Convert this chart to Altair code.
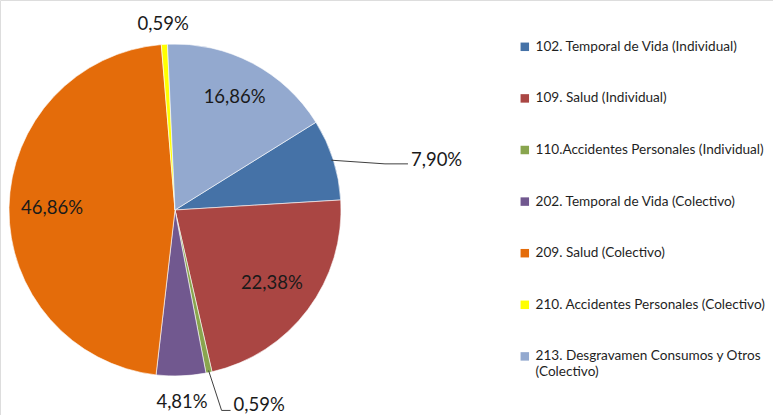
import math
import altair as alt
import pandas as pd

categories = [
    "102. Temporal de Vida (Individual)",
    "109. Salud (Individual)",
    "110.Accidentes Personales (Individual)",
    "202. Temporal de Vida (Colectivo)",
    "209. Salud (Colectivo)",
    "210. Accidentes Personales (Colectivo)",
    "213. Desgravamen Consumos y Otros (Colectivo)",
]
values = [7.90, 22.38, 0.59, 4.81, 46.86, 0.59, 16.86]
labels = ["7,90%", "22,38%", "0,59%", "4,81%", "46,86%", "0,59%", "16,86%"]
colors = ["#4572A7", "#AA4643", "#89A54E", "#71588F", "#E46C0A", "#FFFF00", "#93A9CF"]

# layout (style) constants
CX, CY, R = 175, 210, 166
START_DEG = 58.1
label_radius = [None, 121, None, 192, 123, 186, 128]
leader = {0: (237.5, 78.8, 23, 4), 2: (208, 164.5, 9, 5)}  # r, angle, elbow offset, text lift

total = sum(values)
rows, text_rows, line_rows = [], [], []
cum = START_DEG
for i, (c, v, lab) in enumerate(zip(categories, values, labels)):
    span = 360 * v / total
    mid = math.radians(cum + span / 2)
    cum += span
    rows.append({"cat": c, "value": v, "idx": i})
    if i in leader:
        lr, la, elb, lift = leader[i]
        ax = CX + lr * math.sin(math.radians(la))
        ay = CY - lr * math.cos(math.radians(la))
        sx = CX + (R - 2) * math.sin(mid)
        sy = CY - (R - 2) * math.cos(mid)
        pts = [(sx, sy), (ax - elb, ay), (ax, ay)]
        for k, (px, py) in enumerate(pts):
            line_rows.append({"g": i, "k": k, "px": px, "py": py})
        text_rows.append({"t": lab, "px": ax + 3, "py": ay - lift, "al": "left"})
    else:
        lr = label_radius[i]
        text_rows.append({"t": lab, "px": CX + lr * math.sin(mid),
                          "py": CY - lr * math.cos(mid), "al": "center"})

df = pd.DataFrame(rows)
tdf = pd.DataFrame(text_rows)
ldf = pd.DataFrame(line_rows)

FONT = "Lato"
last = categories[-1]
label_expr = (f"datum.label == '{last}' ? ['213. Desgravamen Consumos y Otros', '(Colectivo)'] : datum.label")

start = math.radians(START_DEG)
arcs = alt.Chart(df).mark_arc(radius=R, stroke="white", strokeWidth=0.6).encode(
    theta=alt.Theta("value:Q", stack=True, scale=alt.Scale(range=[start, start + 2 * math.pi])),
    order=alt.Order("idx:Q"),
    color=alt.Color("cat:N", scale=alt.Scale(domain=categories, range=colors),
                    sort=categories,
                    legend=alt.Legend(title=None, orient="none", legendX=518, legendY=40,
                                      symbolType="square", symbolSize=72, symbolStrokeWidth=0,
                                      labelFont=FONT, labelFontSize=13.6, labelColor="#1f1f1f",
                                      labelLimit=300, rowPadding=36.6, labelOffset=4,
                                      labelExpr=label_expr, padding=0)),
    x=alt.value(CX), y=alt.value(CY),
)

lines = alt.Chart(ldf).mark_line(color="#404040", strokeWidth=1).encode(
    x=alt.X("px:Q", scale=None), y=alt.Y("py:Q", scale=None),
    detail="g:N", order="k:Q",
)

texts_c = alt.Chart(tdf[tdf.al == "center"]).mark_text(
    font=FONT, fontSize=18.5, color="#1a1a1a", align="center", baseline="middle"
).encode(x=alt.X("px:Q", scale=None), y=alt.Y("py:Q", scale=None), text="t:N")
texts_l = alt.Chart(tdf[tdf.al == "left"]).mark_text(
    font=FONT, fontSize=18.5, color="#1a1a1a", align="left", baseline="middle"
).encode(x=alt.X("px:Q", scale=None), y=alt.Y("py:Q", scale=None), text="t:N")

chart = alt.layer(arcs, lines, texts_c, texts_l).properties(
    width=773, height=415, autosize=alt.AutoSizeParams(type="none"), padding=0
).configure_view(stroke=None).configure(background="white")

chart.save("out.html", embed_options={"renderer": "svg", "actions": False})
